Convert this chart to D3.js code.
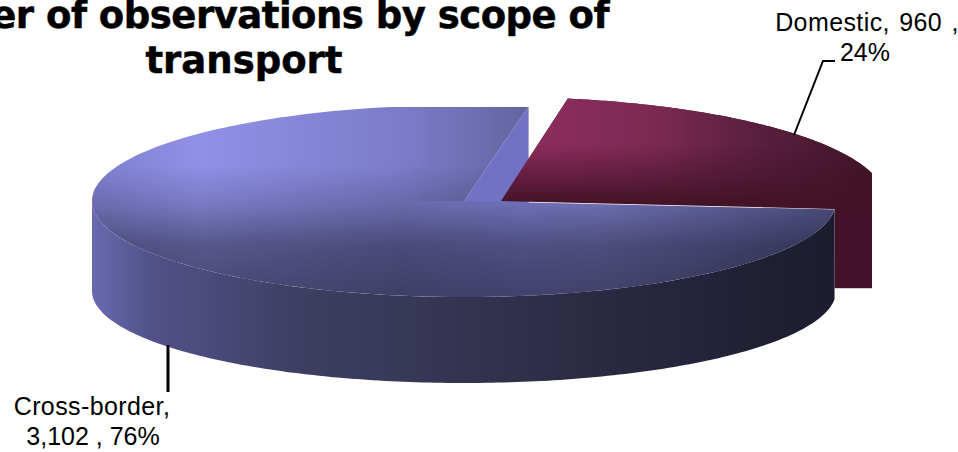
<!DOCTYPE html>
<html>
<head>
<meta charset="utf-8">
<script src="https://cdn.jsdelivr.net/npm/d3@7"></script>
<style>
  html, body { margin: 0; padding: 0; background: #fff; overflow: hidden; }
  svg { display: block; }
</style>
</head>
<body>
<svg id="chart" width="958" height="452"></svg>
<script>
// Shipments observed, split by scope of transport
const categories = ["Domestic", "Cross-border"];
const observations = [960, 3102];
const titleLines = ["Number of observations by scope of", "transport"];

const svg = d3.select("#chart");
const defs = svg.append("defs");
const rad = d => d * Math.PI / 180;

// Oblique projection of the unit disc for each layer of the 3D pie
const blueX = d3.scaleLinear([-1, 1], [92, 836]);
const blueY = d3.scaleLinear([-1, 1], [105, 297]);
const floorY = d3.scaleLinear([-1, 1], [199, 383]);
const redX = d3.scaleLinear([-1, 1], [501 - 385, 501 + 385]);
const redY = d3.scaleLinear([-1, 1], [201 - 104, 201 + 104]);
const wedgeDepth = 78;

const slices = d3.pie().sort(null).startAngle(rad(10)).endAngle(rad(370))(observations);
const [domestic, crossBorder] = slices;
const total = d3.sum(observations);

const rim = (a0, a1, sx, sy) =>
  d3.range(0, 181).map(i => {
    const a = a0 + (a1 - a0) * i / 180;
    return [sx(Math.sin(a)), sy(-Math.cos(a))];
  });
const line = d3.line();

function hGradient(id, stops) {
  const g = defs.append("linearGradient").attr("id", id)
    .attr("gradientUnits", "userSpaceOnUse")
    .attr("x1", 92).attr("x2", 872).attr("y1", 0).attr("y2", 0);
  stops.forEach(([x, c]) => g.append("stop").attr("offset", (x - 92) / 780).attr("stop-color", c));
}
function vShade(id, y1, y2, stops, colour) {
  const g = defs.append("linearGradient").attr("id", id)
    .attr("gradientUnits", "userSpaceOnUse")
    .attr("x1", 0).attr("x2", 0).attr("y1", y1).attr("y2", y2);
  stops.forEach(([o, op]) => g.append("stop").attr("offset", o)
    .attr("stop-color", colour).attr("stop-opacity", op));
}

hGradient("blueUpper", [[92, "#7f7fd0"], [200, "#9090e8"], [400, "#7c7cca"], [530, "#6464a0"]]);
hGradient("blueLower", [[92, "#7f7fd0"], [200, "#9090e8"], [400, "#7c7cca"], [520, "#8282d8"],
                        [600, "#8181d0"], [700, "#7070b7"], [836, "#585890"]]);
hGradient("blueWall", [[92, "#6a6ab0"], [150, "#52528a"], [300, "#3e3e62"], [480, "#33334f"],
                       [620, "#28283f"], [836, "#1c1c30"]]);
hGradient("redTop", [[92, "#8a2c5c"], [560, "#8a2c5c"], [650, "#7c2a52"], [750, "#5c2040"], [840, "#47182f"], [872, "#401428"]]);
vShade("blueShade", 165, 297, [[0, 0], [0.3, 0.16], [0.61, 0.4], [0.8, 0.45], [1, 0.5]], "#000");
vShade("redFade", 145, 205, [[0, 1], [1, 0]], "#fff");

defs.append("mask").attr("id", "redMask")
  .attr("maskUnits", "userSpaceOnUse")
  .attr("x", 0).attr("y", 0).attr("width", 958).attr("height", 452)
  .append("rect").attr("x", 0).attr("y", 0).attr("width", 958).attr("height", 452).attr("fill", "url(#redFade)");

defs.append("clipPath").attr("id", "plotArea")
  .append("rect").attr("x", 0).attr("y", 107).attr("width", 872).attr("height", 345);
defs.append("clipPath").attr("id", "upperHalf")
  .append("rect").attr("x", 0).attr("y", 0).attr("width", 958).attr("height", blueY(0));
defs.append("clipPath").attr("id", "lowerHalf")
  .append("rect").attr("x", 0).attr("y", blueY(0)).attr("width", 958).attr("height", 300);
defs.append("clipPath").attr("id", "redArea")
  .append("rect").attr("x", 0).attr("y", 0).attr("width", 872).attr("height", 452);

const rimEndX = blueX(Math.sin(domestic.endAngle));

// Side wall of the pulled-out slice, visible past the end of the larger one
const redWallTop = redY(-Math.cos(domestic.endAngle)) - 20;
svg.append("rect")
  .attr("clip-path", "url(#redArea)")
  .attr("x", rimEndX).attr("y", redWallTop)
  .attr("width", 872 - rimEndX)
  .attr("height", redY(-Math.cos(domestic.endAngle)) + wedgeDepth - redWallTop)
  .attr("fill", "#431228");

// Cut face of the larger slice, seen through the gap
const cutTop = [blueX(Math.sin(domestic.startAngle)), blueY(-Math.cos(domestic.startAngle))];
svg.append("path")
  .attr("clip-path", "url(#plotArea)")
  .attr("d", line([[blueX(0), blueY(0)], cutTop, [cutTop[0], blueY(0) + 10], [redX(0), blueY(0) + 10]]))
  .attr("fill", "#7272c4");

// Top of the domestic slice: a flat dark base with the lit colours fading out towards the front
const redFace = line([[redX(0), redY(0)], ...rim(domestic.startAngle, domestic.endAngle, redX, redY)]) + "Z";
const redG = svg.append("g").attr("clip-path", "url(#redArea)");
redG.append("path").attr("d", redFace).attr("fill", "#431326");
redG.append("path").attr("d", redFace).attr("fill", "url(#redTop)").attr("mask", "url(#redMask)");

// Outer wall of the larger slice, between the top rim and the floor rim
const wallFrom = domestic.endAngle, wallTo = rad(270);
svg.append("path")
  .attr("d", line([...rim(wallFrom, wallTo, blueX, blueY), ...rim(wallFrom, wallTo, blueX, floorY).reverse()]) + "Z")
  .attr("fill", "url(#blueWall)");

// Top of the larger slice, lit differently on either side of the centre line
const blueFace = line([[blueX(0), blueY(0)], ...rim(crossBorder.startAngle, crossBorder.endAngle, blueX, blueY)]) + "Z";
const blueG = svg.append("g").attr("clip-path", "url(#plotArea)");
blueG.append("path").attr("d", blueFace).attr("clip-path", "url(#upperHalf)").attr("fill", "url(#blueUpper)");
blueG.append("path").attr("d", blueFace).attr("clip-path", "url(#lowerHalf)").attr("fill", "url(#blueLower)");
blueG.append("path").attr("d", blueFace).attr("fill", "url(#blueShade)");

// Leader lines
svg.append("path").attr("d", line([[794, 135], [823, 61], [835, 61]]))
  .attr("fill", "none").attr("stroke", "#000").attr("stroke-width", 2);
svg.append("path").attr("d", line([[168, 345], [168, 392]]))
  .attr("fill", "none").attr("stroke", "#000").attr("stroke-width", 3);

// Title, slightly emboldened
svg.append("g").selectAll("text").data(titleLines).join("text")
  .attr("x", (d, i) => i ? 244 : 240)
  .attr("y", (d, i) => 28 + i * 45)
  .attr("text-anchor", "middle")
  .attr("font-family", "'DejaVu Sans', sans-serif")
  .attr("font-weight", "bold")
  .attr("font-size", 37)
  .attr("letter-spacing", (d, i) => i ? 0 : -0.5)
  .attr("stroke", "#000")
  .attr("stroke-width", 0.5)
  .attr("fill", "#000")
  .text(d => d);

// Data labels
const fmt = d3.format(",");
const pct = d3.format(".0%");
const labelFor = s => [categories[s.index], fmt(s.value), pct(s.value / total)];
const [dName, dVal, dPct] = labelFor(domestic);
const [cName, cVal, cPct] = labelFor(crossBorder);
const labelLines = [
  { x: 867, y: 31, text: `${dName}, ${dVal} ,`, ls: 0.4, ws: 2 },
  { x: 865, y: 61, text: dPct, ls: 0, ws: 0 },
  { x: 92, y: 415, text: `${cName},`, ls: 0.4, ws: 0 },
  { x: 93, y: 445, text: `${cVal} , ${cPct}`, ls: 0, ws: 0 }
];
svg.append("g").selectAll("text").data(labelLines).join("text")
  .attr("x", d => d.x).attr("y", d => d.y)
  .attr("text-anchor", "middle")
  .attr("font-family", "'Liberation Sans', Arial, sans-serif")
  .attr("font-size", 25)
  .attr("letter-spacing", d => d.ls)
  .attr("word-spacing", d => d.ws)
  .attr("fill", "#000")
  .text(d => d.text);
</script>
</body>
</html>
